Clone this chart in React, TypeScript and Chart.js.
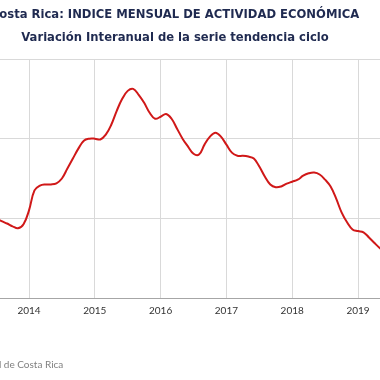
import React, { useEffect, useRef } from "react";
import { Chart, registerables } from "chart.js";

Chart.register(...registerables);

const TITLE_LINES = [
  "Costa Rica: INDICE MENSUAL DE ACTIVIDAD ECONÓMICA",
  "Variación Interanual de la serie tendencia ciclo",
];
const SOURCE = "Fuente: Banco Central de Costa Rica";

const MONTHS = [
  "2013-07", "2013-08", "2013-09", "2013-10", "2013-11", "2013-12",
  "2014-01", "2014-02", "2014-03", "2014-04", "2014-05", "2014-06",
  "2014-07", "2014-08", "2014-09", "2014-10", "2014-11", "2014-12",
  "2015-01", "2015-02", "2015-03", "2015-04", "2015-05", "2015-06",
  "2015-07", "2015-08", "2015-09", "2015-10", "2015-11", "2015-12",
  "2016-01", "2016-02", "2016-03", "2016-04", "2016-05", "2016-06",
  "2016-07", "2016-08", "2016-09", "2016-10", "2016-11", "2016-12",
  "2017-01", "2017-02", "2017-03", "2017-04", "2017-05", "2017-06",
  "2017-07", "2017-08", "2017-09", "2017-10", "2017-11", "2017-12",
  "2018-01", "2018-02", "2018-03", "2018-04", "2018-05", "2018-06",
  "2018-07", "2018-08", "2018-09", "2018-10", "2018-11", "2018-12",
  "2019-01", "2019-02", "2019-03", "2019-04", "2019-05", "2019-06",
];

const VALUES = [
  2.0, 1.93, 1.87, 1.8, 1.75, 1.85,
  2.2, 2.7, 2.82, 2.85, 2.85, 2.88,
  3.0, 3.25, 3.5, 3.75, 3.95, 4.0,
  4.0, 3.98, 4.1, 4.35, 4.7, 5.0,
  5.2, 5.25, 5.1, 4.9, 4.65, 4.5,
  4.55, 4.62, 4.5, 4.25, 4.0, 3.8,
  3.62, 3.6, 3.85, 4.05, 4.15, 4.05,
  3.85, 3.65, 3.57, 3.57, 3.55, 3.5,
  3.3, 3.05, 2.85, 2.78, 2.8, 2.87,
  2.92, 2.97, 3.07, 3.13, 3.15, 3.1,
  2.97, 2.8, 2.5, 2.15, 1.9, 1.72,
  1.68, 1.65, 1.52, 1.38, 1.25, 1.15,
];

const Y_TICKS = [0, 2, 4, 6];
const X_TICKS = [2013, 2014, 2015, 2016, 2017, 2018, 2019, 2020];
const X_MIN = 2013;
const X_MAX = 2020.337;

const toYear = (m: string) => {
  const [y, mo] = m.split("-").map(Number);
  return y + (mo - 1) / 12;
};

const SHIFT = 102;
const CANVAS_W = 554;

export default function App() {
  const ref = useRef<HTMLCanvasElement | null>(null);

  useEffect(() => {
    if (!ref.current) return;
    const chart = new Chart(ref.current, {
      type: "line",
      data: {
        datasets: [
          {
            data: MONTHS.map((m, i) => ({ x: toYear(m), y: VALUES[i] })),
            borderColor: "#d01818",
            borderWidth: 2,
            pointRadius: 0,
            tension: 0.4,
            fill: false,
          },
        ],
      },
      options: {
        responsive: false,
        animation: false,
        layout: { padding: { left: 6, right: 6, top: 0, bottom: 0 } },
        plugins: {
          legend: { display: false },
          tooltip: { enabled: false },
          title: {
            display: true,
            text: TITLE_LINES,
            color: "#1f2a50",
            font: { family: "'DejaVu Sans'", size: 11.6, weight: "bold", lineHeight: 23 / 11.6 },
            padding: { top: 3.5, bottom: 9.5 },
          },
          subtitle: {
            display: true,
            text: SOURCE,
            position: "bottom",
            align: "start",
            color: "#808080",
            font: { family: "Lato", size: 10 },
            padding: { top: 31, bottom: 9 },
          },
        },
        scales: {
          x: {
            type: "linear",
            min: X_MIN,
            max: X_MAX,
            afterFit: (s: any) => { s.height = 30; },
            afterBuildTicks: (s: any) => { s.ticks = X_TICKS.map((v) => ({ value: v })); },
            grid: { color: "#d9d9d9", drawTicks: false },
            border: { color: "#a6a6a6", width: 1 },
            ticks: {
              padding: 7,
              color: "#333333",
              font: { family: "Lato", size: 10 },
              callback: (v: any) => String(v),
            },
          },
          y: {
            min: 0,
            max: 6,
            afterFit: (s: any) => { s.width = 59.2; },
            afterBuildTicks: (s: any) => { s.ticks = Y_TICKS.map((v) => ({ value: v })); },
            grid: { color: "#d9d9d9", drawTicks: false },
            border: { display: false },
            ticks: {
              padding: 6,
              color: "#404040",
              font: { family: "Lato", size: 10 },
              callback: (v: any) => v + "%",
            },
          },
        },
      },
    });
    return () => chart.destroy();
  }, []);

  return (
    <div style={{ position: "fixed", left: 0, top: 0, width: 380, height: 380, overflow: "hidden", background: "#fff" }}>
      <canvas ref={ref} width={CANVAS_W} height={380} style={{ position: "absolute", left: -SHIFT, top: 0 }} />
    </div>
  );
}
